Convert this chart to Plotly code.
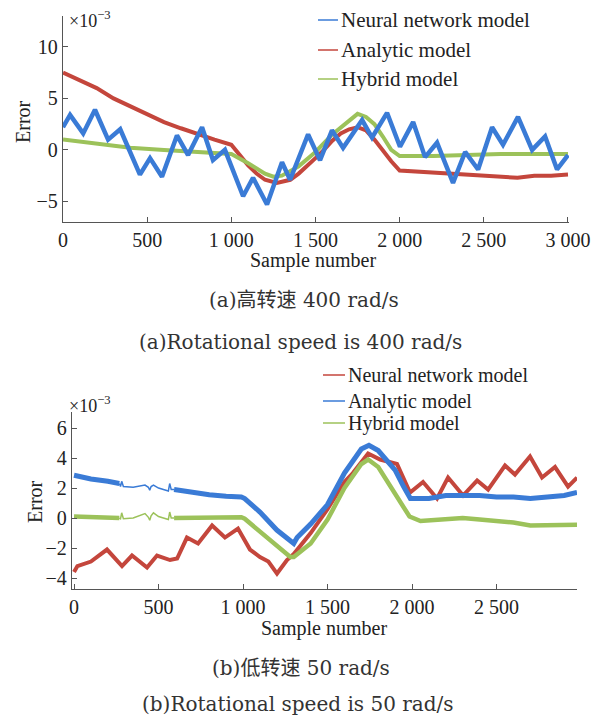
import plotly.graph_objects as go

W, H = 593, 717
BLUE = "#3a7bd6"
RED = "#c4463c"
GREEN = "#9cc25a"
FONT = "Liberation Serif, Times New Roman, serif"
CAP = "DejaVu Serif, Noto Sans CJK SC, serif"

# ---------------- (a) 400 rad/s ----------------
a_nn_x = [0, 42, 120, 190, 268, 340, 457, 517, 588, 677, 743, 826, 891, 962, 1070, 1129,
          1212, 1301, 1349, 1456, 1527, 1598, 1664, 1777, 1836, 1925, 2002, 2080, 2151,
          2222, 2317, 2389, 2466, 2549, 2614, 2703, 2787, 2864, 2935, 3000]
a_nn_y = [2.2, 3.4, 1.6, 3.9, 1.0, 2.0, -2.4, -0.8, -2.6, 1.4, -0.5, 2.2, -1.0, 0.0, -4.5, -2.7,
          -5.3, -1.2, -2.9, 1.5, -1.0, 1.9, 0.2, 2.9, 1.2, 3.6, 0.3, 2.7, -0.7,
          0.7, -3.2, -0.2, -1.9, 2.2, 0.5, 3.2, 0.0, 1.3, -1.9, -0.5]

a_an_x = [0, 100, 200, 300, 400, 500, 600, 700, 800, 900, 1000, 1050, 1100, 1150, 1200, 1270,
          1350, 1400, 1450, 1500, 1550, 1600, 1650, 1700, 1750, 1800, 1850, 1900, 1950, 2000,
          2100, 2200, 2300, 2400, 2500, 2600, 2700, 2800, 2900, 3000]
a_an_y = [7.5, 6.8, 6.0, 5.0, 4.2, 3.4, 2.7, 2.1, 1.5, 1.0, 0.5, -0.5, -1.5, -2.3, -2.9, -3.2,
          -2.9, -2.3, -1.6, -0.8, 0.0, 0.9, 1.6, 2.0, 2.2, 1.9, 1.0, -0.1, -1.1, -2.0,
          -2.1, -2.2, -2.3, -2.4, -2.5, -2.6, -2.7, -2.5, -2.5, -2.4]

a_hy_x = [0, 200, 400, 600, 800, 950, 1000, 1100, 1200, 1250, 1300, 1400, 1500, 1600, 1700,
          1750, 1800, 1850, 1900, 1950, 2000, 2200, 2400, 2600, 2800, 3000]
a_hy_y = [1.0, 0.6, 0.2, 0.0, -0.2, -0.3, -0.4, -1.3, -2.3, -2.6, -2.5, -1.6, -0.2, 1.5, 2.9,
          3.5, 3.2, 2.5, 1.3, 0.0, -0.6, -0.6, -0.5, -0.4, -0.4, -0.4]

# ---------------- (b) 50 rad/s ----------------
b_nn_x = [0, 20, 100, 195, 284, 343, 432, 491, 568, 610, 668, 734, 817, 893, 970, 1041, 1100,
          1150, 1201, 1260, 1300, 1400, 1500, 1600, 1650, 1700, 1740, 1811, 1911, 1988, 2065,
          2148, 2213, 2302, 2385, 2450, 2550, 2609, 2698, 2769, 2846, 2923, 2976]
b_nn_y = [-3.6, -3.2, -2.9, -2.1, -3.2, -2.5, -3.3, -2.5, -2.8, -2.7, -1.3, -1.7, -0.5, -1.3,
          -0.7, -2.1, -2.6, -2.9, -3.7, -2.8, -2.4, -1.0, 0.6, 2.4, 3.0, 3.7, 4.3, 3.9, 3.6,
          1.7, 2.4, 1.3, 2.7, 1.5, 2.5, 1.9, 3.5, 2.9, 4.1, 2.7, 3.4, 2.1, 2.7]

b_an_x1 = [0, 100, 200, 268]
b_an_y1 = [2.85, 2.6, 2.45, 2.3]
b_an_x2 = [268, 275, 282, 292, 350, 420, 440, 448, 456, 470, 500, 540, 558, 566, 575, 592]
b_an_y2 = [2.3, 2.1, 2.45, 2.1, 2.05, 2.2, 2.05, 1.85, 2.1, 2.2, 2.0, 1.85, 1.8, 2.3, 1.9, 1.9]
b_an_x3 = [592, 700, 800, 900, 990, 1010, 1100, 1200, 1280, 1300, 1320, 1400, 1500, 1600,
           1700, 1745, 1800, 1900, 1950, 1990, 2100, 2200, 2300, 2400, 2500, 2600, 2700,
           2800, 2900, 2976]
b_an_y3 = [1.9, 1.7, 1.55, 1.45, 1.4, 1.3, 0.4, -0.8, -1.6, -1.7, -1.3, -0.4, 0.9, 3.0,
           4.6, 4.85, 4.5, 3.2, 2.1, 1.3, 1.3, 1.5, 1.5, 1.5, 1.4, 1.4, 1.3, 1.4, 1.5, 1.7]

b_hy_x1 = [0, 100, 200, 268]
b_hy_y1 = [0.1, 0.05, 0.05, 0.0]
b_hy_x2 = [268, 275, 282, 292, 350, 420, 440, 448, 456, 470, 500, 540, 558, 566, 575, 592]
b_hy_y2 = [0.0, -0.05, 0.35, -0.05, 0.0, 0.3, 0.05, -0.15, 0.15, 0.35, 0.1, -0.05, -0.1,
           0.4, 0.0, 0.0]
b_hy_x3 = [592, 800, 990, 1010, 1100, 1200, 1280, 1300, 1400, 1500, 1600, 1700, 1740, 1800,
           1900, 1950, 1985, 2050, 2200, 2300, 2400, 2500, 2600, 2700, 2800, 2900, 2976]
b_hy_y3 = [0.0, 0.0, 0.05, -0.05, -0.9, -1.9, -2.6, -2.6, -1.7, -0.1, 2.0, 3.6, 3.9, 3.4,
           1.6, 0.6, 0.1, -0.2, -0.1, 0.0, -0.1, -0.2, -0.3, -0.5, -0.5, -0.5, -0.45]

a_xticks = [0, 500, 1000, 1500, 2000, 2500, 3000]
a_xtext = ["0", "500", "1 000", "1 500", "2 000", "2 500", "3 000"]
a_yticks = [-5, 0, 5, 10]
a_ytext = ["\u22125", "0", "5", "10"]
b_xticks = [0, 500, 1000, 1500, 2000, 2500]
b_xtext = ["0", "500", "1 000", "1 500", "2 000", "2 500"]
b_yticks = [-4, -2, 0, 2, 4, 6]
b_ytext = ["\u22124", "\u22122", "0", "2", "4", "6"]

legend_a = [("Neural network model", BLUE), ("Analytic model", RED), ("Hybrid model", GREEN)]
legend_b = [("Neural network model", RED), ("Analytic model", BLUE), ("Hybrid model", GREEN)]

captions = ["(a)高转速 400 rad/s", "(a)Rotational speed is 400 rad/s",
            "(b)低转速 50 rad/s", "(b)Rotational speed is 50 rad/s"]

fig = go.Figure()


def add(x, y, color, width, ax):
    xa, ya = ("x", "y") if ax == 1 else ("x2", "y2")
    fig.add_trace(go.Scatter(x=x, y=y, mode="lines", xaxis=xa, yaxis=ya,
                             line=dict(color=color, width=width), showlegend=False,
                             hoverinfo="skip"))


add(a_an_x, a_an_y, RED, 4, 1)
add(a_hy_x, a_hy_y, GREEN, 4, 1)
add(a_nn_x, a_nn_y, BLUE, 4.5, 1)

add(b_nn_x, b_nn_y, RED, 4, 2)
add(b_hy_x1, b_hy_y1, GREEN, 4.5, 2)
add(b_hy_x2, b_hy_y2, GREEN, 1.5, 2)
add(b_hy_x3, b_hy_y3, GREEN, 4.5, 2)
add(b_an_x1, b_an_y1, BLUE, 5, 2)
add(b_an_x2, b_an_y2, BLUE, 1.5, 2)
add(b_an_x3, b_an_y3, BLUE, 5, 2)


def px(x):
    return x / W


def py(y):
    return 1 - y / H


axis_common = dict(showline=True, linecolor="#555", linewidth=1.3, ticks="inside",
                   ticklen=5, tickwidth=1.2, tickcolor="#555", showgrid=False,
                   zeroline=False, tickfont=dict(family=FONT, size=20, color="#222"),
                   tickmode="array", fixedrange=True, automargin=False,
                   ticklabeloverflow="allow")

fig.update_layout(
    width=W, height=H, autosize=False, margin=dict(l=0, r=0, t=0, b=0, pad=0),
    paper_bgcolor="white", plot_bgcolor="white", showlegend=False,
    xaxis=dict(domain=[px(63), px(569)], range=[0, 3006], anchor="y",
               tickvals=a_xticks, ticktext=a_xtext, **axis_common),
    yaxis=dict(domain=[py(222), py(16)], range=[-7, 13], anchor="x",
               tickvals=a_yticks, ticktext=a_ytext, **axis_common),
    xaxis2=dict(domain=[px(72), px(577)], range=[-12, 2976], anchor="y2",
                tickvals=b_xticks, ticktext=b_xtext, **axis_common),
    yaxis2=dict(domain=[py(589), py(412)], range=[-4.73, 7.07], anchor="x2",
                tickvals=b_yticks, ticktext=b_ytext, **axis_common),
)

ann = []


def text(x, y, s, size=20, angle=0, xanchor="center", family=FONT, color="#222"):
    ann.append(dict(x=px(x), y=py(y), xref="paper", yref="paper", text=s, showarrow=False,
                    xanchor=xanchor, yanchor="middle", textangle=angle,
                    font=dict(family=family, size=size, color=color)))


# axis titles
text(313, 260, "Sample number")
text(23, 122, "Error", angle=-90)
text(67, 20, "\u00d710<sup>\u22123</sup>", size=18, xanchor="left")
text(324, 628, "Sample number")
text(35, 502, "Error", angle=-90)
text(67, 404, "\u00d710<sup>\u22123</sup>", size=18, xanchor="left")

# legends
shapes = []
for i, (name, col) in enumerate(legend_a):
    yy = [20, 50, 79][i]
    shapes.append(dict(type="line", xref="paper", yref="paper", x0=px(318), x1=px(338),
                       y0=py(yy), y1=py(yy), line=dict(color=col, width=1.5)))
    text(339, yy, name, size=21, xanchor="left")
for i, (name, col) in enumerate(legend_b):
    yy = [375, 401, 423][i]
    shapes.append(dict(type="line", xref="paper", yref="paper", x0=px(323), x1=px(345),
                       y0=py(yy), y1=py(yy), line=dict(color=col, width=1.5)))
    text(346, yy, name, size=20, xanchor="left")

# captions
text(304, 300, captions[0], size=20, family=CAP, color="#333")
text(300, 342, captions[1], size=20, family=CAP, color="#333")
text(301, 668, captions[2], size=20, family=CAP, color="#333")
text(298, 704, captions[3], size=20, family=CAP, color="#333")

fig.update_layout(annotations=ann, shapes=shapes)
fig.write_html("out.html", config={"responsive": False, "displayModeBar": False},
               post_script="document.body.style.margin='0';"
                           "document.body.style.overflow='hidden';")
